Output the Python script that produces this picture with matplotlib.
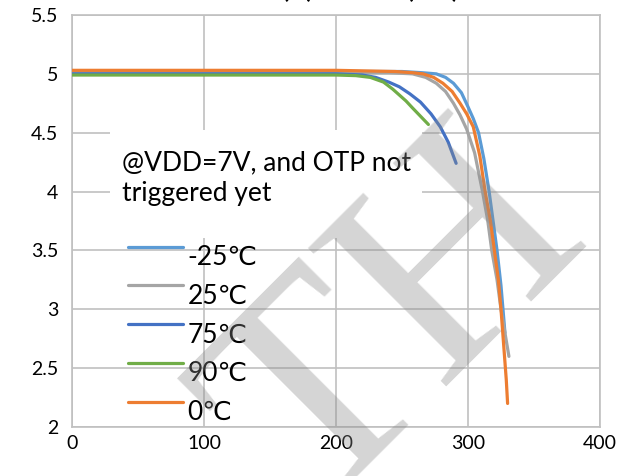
import matplotlib.pyplot as plt
from matplotlib.patches import Rectangle
from matplotlib.transforms import ScaledTranslation

plt.rcParams['font.family'] = ['Lato', 'DejaVu Sans']

# Output current (mA) and output voltage (V) per temperature
x_m25 = [0, 100, 200, 250, 265, 276, 283, 289, 295, 300, 304, 308, 312, 316, 319, 322, 325, 328]
y_m25 = [5.02, 5.02, 5.02, 5.02, 5.01, 5.0, 4.97, 4.92, 4.84, 4.72, 4.62, 4.5, 4.28, 4.0, 3.75, 3.5, 3.2, 2.8]

x_25 = [0, 100, 200, 240, 258, 268, 276, 283, 289, 294, 299, 305, 311, 315, 318, 322, 325, 328, 331]
y_25 = [5.01, 5.01, 5.01, 5.01, 5.0, 4.97, 4.92, 4.85, 4.75, 4.65, 4.53, 4.33, 4.0, 3.75, 3.5, 3.25, 3.0, 2.8, 2.6]

x_75 = [0, 100, 200, 220, 230, 240, 248, 256, 264, 272, 279, 285, 289, 291]
y_75 = [5.0, 5.0, 5.0, 4.99, 4.97, 4.93, 4.89, 4.83, 4.76, 4.66, 4.55, 4.42, 4.30, 4.24]

x_90 = [0, 100, 200, 215, 226, 236, 243, 248, 253, 258, 264, 270]
y_90 = [4.99, 4.99, 4.99, 4.985, 4.97, 4.93, 4.87, 4.82, 4.77, 4.71, 4.64, 4.57]

x_0 = [0, 100, 200, 245, 258, 266, 274, 281, 288, 294, 299, 304, 309, 313, 317, 320, 323, 325, 327, 329, 330]
y_0 = [5.03, 5.03, 5.03, 5.02, 5.01, 5.0, 4.97, 4.92, 4.85, 4.75, 4.66, 4.55, 4.3, 4.0, 3.75, 3.5, 3.25, 3.0, 2.7, 2.4, 2.2]

series = [
    ("-25℃", x_m25, y_m25, "#5B9BD5"),
    ("25℃", x_25, y_25, "#A5A5A5"),
    ("75℃", x_75, y_75, "#4472C4"),
    ("90℃", x_90, y_90, "#70AD47"),
    ("0℃", x_0, y_0, "#ED7D31"),
]

fig = plt.figure(figsize=(6.29, 4.76), dpi=100)
ax = fig.add_axes([72/629, 1 - 427/476, 528/629, 412/476])

for label, xs, ys, c in series:
    ax.plot(xs, ys, color=c, lw=2.3, label=label, solid_capstyle='round', zorder=3)

ax.set_xlim(0, 400)
ax.set_ylim(2, 5.5)
ax.set_xticks([0, 100, 200, 300, 400])
ax.set_yticks([2, 2.5, 3, 3.5, 4, 4.5, 5, 5.5])
ax.set_yticklabels(["2", "2.5", "3", "3.5", "4", "4.5", "5", "5.5"])
ax.tick_params(length=0, labelsize=14)
ax.tick_params(axis='y', pad=10)
ax.tick_params(axis='x', pad=6)
ax.grid(True, color="#C0C0C0", lw=1.2, zorder=0)
ax.set_axisbelow(True)
for s in ax.spines.values():
    s.set_color("#C0C0C0")
    s.set_linewidth(1.2)

# white box behind the note
ax.add_patch(Rectangle((38/528, (427-238)/412), 312/528, 108/412,
                       transform=ax.transAxes, facecolor="white",
                       edgecolor="none", zorder=1))
ax.text(50/528, (427-178)/412, "@VDD=7V, and OTP not\ntriggered yet",
        transform=ax.transAxes, fontsize=19, va="center", ha="left",
        linespacing=1.25, zorder=2)

leg = ax.legend(loc="upper left", bbox_to_anchor=(56/528, (427-236)/412),
                frameon=False, fontsize=19, handlelength=2.1, handletextpad=0.15,
                labelspacing=0.52, borderaxespad=0, borderpad=0)
# labels sit a little below their line, as in the original
for t in leg.get_texts():
    t.set_transform(t.get_transform() + ScaledTranslation(0, -9/100, fig.dpi_scale_trans))

fig.text(340/629, 1 + 2/476, "Vout (V) vs. Iout (mA)", ha="center",
         va="baseline", fontsize=18, fontweight="bold")

# watermark
fig.text(400/629, 1 - 325/476, "TH", family="Liberation Serif",
         fontsize=215, color="#8a8a8a", alpha=0.36, rotation=45,
         ha="center", va="center", rotation_mode="anchor", zorder=10)

fig.savefig("out.png", dpi=100)
